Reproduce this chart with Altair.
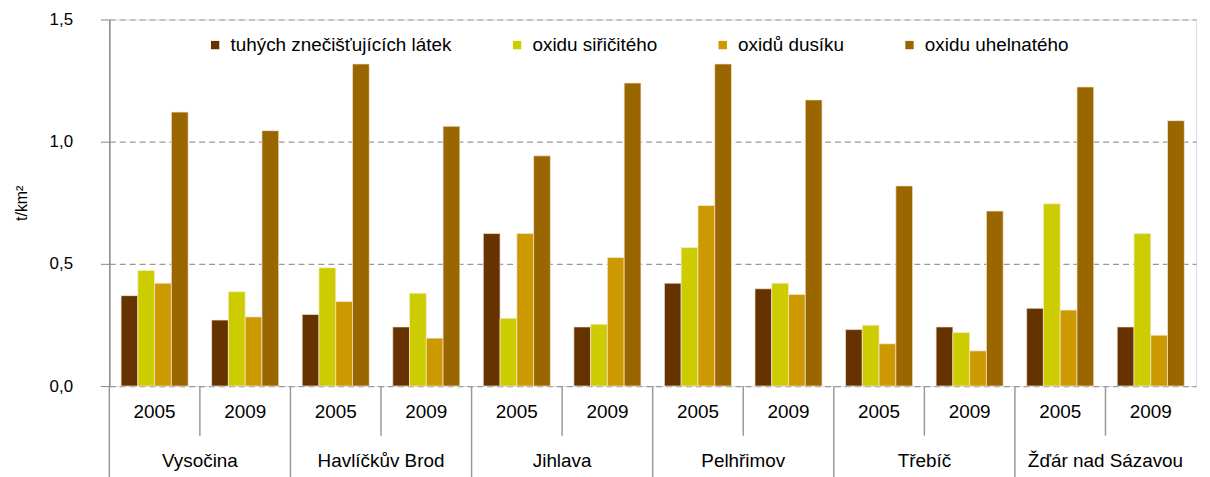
import altair as alt
import pandas as pd

districts = ["Vysočina", "Havlíčkův Brod", "Jihlava", "Pelhřimov", "Třebíč", "Žďár nad Sázavou"]
years = ["2005", "2009"]
pollutants = ["tuhých znečišťujících látek", "oxidu siřičitého", "oxidů dusíku", "oxidu uhelnatého"]
colors = ["#663300", "#CCCC00", "#CC9900", "#996600"]

# values per (district, year) in order: Vys 05, Vys 09, HB 05, HB 09, Ji 05, Ji 09, Pe 05, Pe 09, Tř 05, Tř 09, Žď 05, Žď 09
tuhe = [0.370, 0.270, 0.293, 0.242, 0.624, 0.242, 0.421, 0.398, 0.231, 0.242, 0.318, 0.242]
so2 = [0.473, 0.386, 0.484, 0.380, 0.277, 0.253, 0.567, 0.421, 0.249, 0.219, 0.746, 0.624]
nox = [0.421, 0.283, 0.346, 0.196, 0.624, 0.526, 0.739, 0.375, 0.173, 0.144, 0.311, 0.208]
co = [1.121, 1.045, 1.318, 1.063, 0.942, 1.240, 1.318, 1.171, 0.819, 0.716, 1.224, 1.086]

series = [tuhe, so2, nox, co]
keys = [f"{d}|{y}" for d in districts for y in years]

rows = []
for pi, p in enumerate(pollutants):
    for ki, k in enumerate(keys):
        d, y = k.split("|")
        rows.append({"key": k, "district": d, "year": y, "pollutant": p, "value": series[pi][ki]})
df = pd.DataFrame(rows)
kdf = pd.DataFrame([{"key": k, "district": k.split("|")[0], "year": k.split("|")[1]} for k in keys])

W = 1094
H = 369
step = W / len(keys)
FONT = "Liberation Sans"

xscale = alt.Scale(domain=keys, paddingInner=0, paddingOuter=0)

bars = alt.Chart(df).mark_bar(stroke="#f3ead6", strokeWidth=0.7).encode(
    x=alt.X("key:N", scale=xscale, sort=keys,
            axis=alt.Axis(labels=False, ticks=False, title=None, domain=True,
                          domainColor="#888888", domainWidth=1.5, grid=False)),
    xOffset=alt.XOffset("pollutant:N", sort=pollutants,
                        scale=alt.Scale(domain=pollutants, paddingOuter=0.7, paddingInner=0)),
    y=alt.Y("value:Q", scale=alt.Scale(domain=[0, 1.5], nice=False),
            axis=alt.Axis(values=[0, 0.5, 1.0, 1.5], format=".1f",
                          labelExpr="replace(datum.label, '.', ',')",
                          grid=True, gridDash=[6, 4], gridColor="#999999", gridWidth=1.2,
                          tickSize=9, tickColor="#888888", domainColor="#888888", domainWidth=1.5,
                          labelPadding=28, labelFontSize=17, labelFont=FONT, labelColor="#000000",
                          title="t/km²", titleFontSize=16, titleFont=FONT, titleFontWeight="normal",
                          titleColor="#000000", titlePadding=20)),
    color=alt.Color("pollutant:N", sort=pollutants,
                    scale=alt.Scale(domain=pollutants, range=colors),
                    legend=alt.Legend(title=None, orient="none", legendX=97, legendY=16,
                                      direction="horizontal", symbolType="square",
                                      symbolSize=70, symbolStrokeWidth=0,
                                      labelFontSize=19, labelFont=FONT, labelColor="#000000",
                                      labelLimit=0, labelOffset=6, columnPadding=56, padding=0)),
)

year_sep = alt.Chart(kdf).transform_filter("datum.year == '2009'").mark_rule(
    color="#999999", strokeWidth=1.5).encode(
    x=alt.X("key:N", scale=xscale, sort=keys, bandPosition=0, axis=None),
    y=alt.value(H), y2=alt.value(H + 50))

dist_sep = alt.Chart(kdf).transform_filter("datum.year == '2005'").mark_rule(
    color="#999999", strokeWidth=1.5).encode(
    x=alt.X("key:N", scale=xscale, sort=keys, bandPosition=0, axis=None),
    y=alt.value(H), y2=alt.value(H + 92))

year_txt = alt.Chart(kdf).mark_text(fontSize=19, font=FONT, color="#000000", baseline="middle").encode(
    x=alt.X("key:N", scale=xscale, sort=keys, axis=None),
    y=alt.value(H + 26), text="year:N")

dist_txt = alt.Chart(kdf).transform_filter("datum.year == '2005'").mark_text(
    fontSize=19, font=FONT, color="#000000", baseline="middle", dx=step / 2).encode(
    x=alt.X("key:N", scale=xscale, sort=keys, axis=None),
    y=alt.value(H + 76), text="district:N")

chart = alt.layer(bars, year_sep, dist_sep, year_txt, dist_txt).properties(
    width=W, height=H,
    autosize=alt.AutoSizeParams(type="none"),
    padding={"left": 102, "top": 10, "right": 6, "bottom": 92},
).configure_view(stroke=None).configure(background="white")

chart.save("out.html", embed_options={"renderer": "svg", "actions": False})
